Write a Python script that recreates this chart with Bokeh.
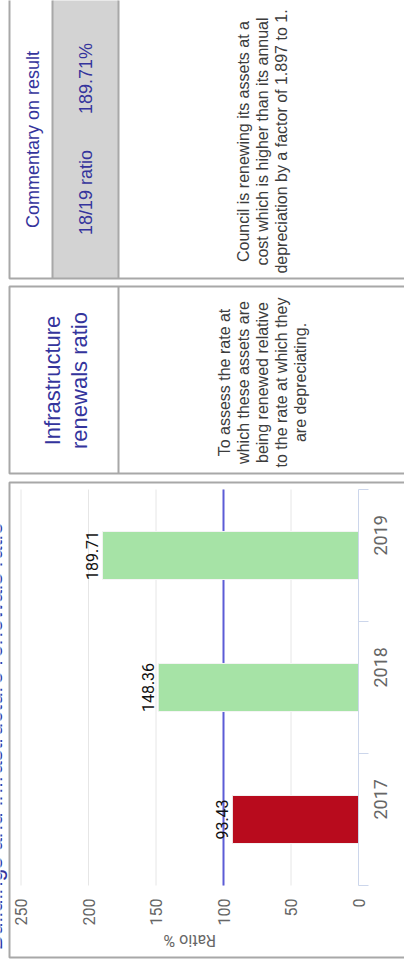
import math
from bokeh.plotting import figure
from bokeh.models import Range1d, LinearAxis, FixedTicker, ColumnDataSource
from bokeh.core.properties import value
from bokeh.embed import file_html
from bokeh.resources import INLINE

# ---------------- data ----------------
years = ["2017", "2018", "2019"]
ratios = [93.43, 148.36, 189.71]
ratio_labels = ["93.43", "148.36", "189.71"]
bar_colors = ["#b80b1d", "#a6e3a6", "#a6e3a6"]
value_ticks = [0, 50, 100, 150, 200, 250]
benchmark = 100
axis_title = "Ratio %"

page_title = "Buildings and infrastructure renewals ratio"
measure_title = ["Infrastructure", "renewals ratio"]
measure_desc = ["To assess the rate at", "which these assets are",
                "being renewed relative", "to the rate at which they",
                "are depreciating."]
comment_title = "Commentary on result"
result_label = "18/19 ratio"
result_value = "189.71%"
comment_lines = ["Council is renewing its assets at a",
                 "cost which is higher than its annual",
                 "depreciation by a factor of 1.897 to 1."]

# ---------------- layout (page pixels) ----------------
W, H = 404, 963
OX, OY = 0, 0
ZERO_X, FULL_X = 358.0, 20.5          # page x of value 0 and of value 250
SLOT_BOTTOM, SLOT_TOP = 885.0, 489.0  # page y of category band edges
px_per_val = (ZERO_X - FULL_X) / value_ticks[-1]
px_per_slot = (SLOT_BOTTOM - SLOT_TOP) / len(years)

val_start = (ZERO_X - OX) / px_per_val
val_end = (ZERO_X - (OX + W)) / px_per_val
slot_start = -((OY + H) - SLOT_BOTTOM) / px_per_slot
slot_end = (SLOT_BOTTOM - OY) / px_per_slot

TITLE_BLUE = "#34349c"
BODY = "#3c3c3c"
BORDER = "#a8a8a8"
CHART_FONT = "Roboto"
SANS = "Liberation Sans"

p = figure(width=W, height=H, x_range=Range1d(OX, OX + W), y_range=Range1d(OY + H, OY),
           x_axis_type=None, y_axis_type=None, output_backend="svg",
           toolbar_location=None, min_border=0)
p.min_border_left = p.min_border_right = p.min_border_top = p.min_border_bottom = 0
p.outline_line_color = None
p.background_fill_color = "white"
p.border_fill_color = "white"
p.extra_x_ranges = {"val": Range1d(val_start, val_end)}
p.extra_y_ranges = {"slot": Range1d(slot_start, slot_end)}

# ---------------- table boxes ----------------
p.quad(left=[52], right=[118], top=[-20], bottom=[278], fill_color="#d3d3d3", line_color=None)
p.quad(left=[9, 9, 9], right=[430, 430, 430], top=[-20, 286, 482], bottom=[278, 473, 957],
       fill_color=None, line_color=BORDER, line_width=2)
p.segment(x0=[52, 118, 118], x1=[52, 118, 118], y0=[-20, -20, 286], y1=[278, 278, 473],
          line_color=BORDER, line_width=2)

def vtext(x, y, t, size, color, font=SANS, align="center", baseline="middle"):
    p.text(x=x, y=y, text=t, angle=math.pi / 2, text_align=align, text_baseline=baseline,
           text_font=value(font), text_font_size=size, text_color=color)

# page title, mostly cut off by the left window edge (as in the reference)
vtext([6], [950], [page_title], "23px", TITLE_BLUE, align="left", baseline="bottom")

vtext([32], [139], [comment_title], "18px", TITLE_BLUE)
vtext([85], [192], [result_label], "18px", TITLE_BLUE)
vtext([85], [78], [result_value], "18px", TITLE_BLUE)
vtext([243 + 19 * i for i in range(len(comment_lines))], [141] * len(comment_lines),
      comment_lines, "16px", BODY)
vtext([52 + 27 * i for i in range(len(measure_title))], [380] * len(measure_title),
      measure_title, "22px", TITLE_BLUE)
vtext([224 + 19 * i for i in range(len(measure_desc))], [382] * len(measure_desc),
      measure_desc, "16px", BODY)

# ---------------- bar chart ----------------
slots = [i + 0.5 for i in range(len(years))]
src = ColumnDataSource(dict(year=years, slot=slots, ratio=ratios, color=bar_colors,
                            label=ratio_labels))
n = len(years)
p.segment(x0=value_ticks[1:], x1=value_ticks[1:], y0=[0] * (len(value_ticks) - 1),
          y1=[n] * (len(value_ticks) - 1), line_color="#e6e6e6", line_width=1,
          x_range_name="val", y_range_name="slot")
p.segment(x0=[benchmark], x1=[benchmark], y0=[0], y1=[n], line_color="#5c5cd6", line_width=2,
          x_range_name="val", y_range_name="slot")
p.hbar(y="slot", left=0, right="ratio", height=0.364, fill_color="color", line_color="#f4f4f4",
       line_width=1, source=src, x_range_name="val", y_range_name="slot")
p.text(x="ratio", y="slot", text="label", source=src, angle=math.pi / 2, text_align="center",
       text_baseline="bottom", x_offset=-4, text_font=value(CHART_FONT), text_font_size="16px",
       text_color="#111111", x_range_name="val", y_range_name="slot")

xaxis = LinearAxis(x_range_name="val", y_range_name="slot", fixed_location=0,
                   ticker=FixedTicker(ticks=value_ticks), major_label_orientation=math.pi / 2,
                   major_tick_out=0, major_tick_in=0, minor_tick_out=0, minor_tick_in=0,
                   axis_line_color=None, major_label_standoff=13,
                   major_label_text_font=CHART_FONT, major_label_text_font_size="16px",
                   major_label_text_color="#666666")
p.add_layout(xaxis, "below")

yaxis = LinearAxis(x_range_name="val", y_range_name="slot", fixed_location=0,
                   ticker=FixedTicker(ticks=slots, minor_ticks=list(range(n + 1))),
                   major_label_overrides={s: y for s, y in zip(slots, years)},
                   major_label_orientation=math.pi / 2,
                   major_tick_out=0, major_tick_in=0, minor_tick_out=10, minor_tick_in=0,
                   minor_tick_line_color="#ccd6eb", axis_line_color="#ccd6eb", bounds=(0, n),
                   major_label_standoff=12, major_label_text_font=CHART_FONT,
                   major_label_text_font_size="18px", major_label_text_color="#666666")
p.add_layout(yaxis, "right")

p.text(x=[sum(value_ticks) / len(value_ticks)], y=[-0.42], text=[axis_title], angle=math.pi,
       text_align="center", text_baseline="middle", text_font=value(CHART_FONT),
       text_font_size="16px", text_color="#666666", x_range_name="val", y_range_name="slot")

open("out.html", "w").write(file_html(p, INLINE))
